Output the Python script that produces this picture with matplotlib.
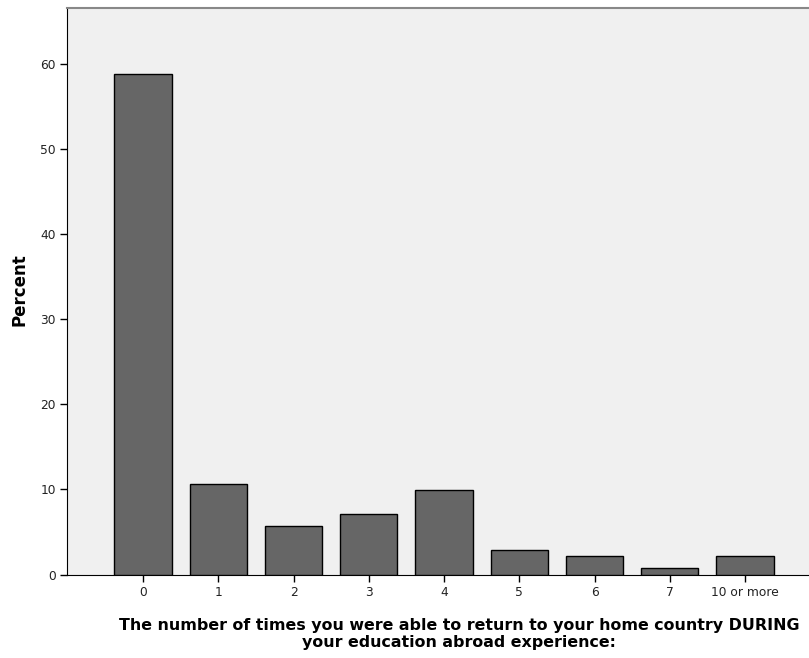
import matplotlib
matplotlib.use("Agg")
import matplotlib.pyplot as plt

categories = ["0", "1", "2", "3", "4", "5", "6", "7", "10 or more"]
percent = [58.87, 10.64, 5.67, 7.09, 9.93, 2.84, 2.13, 0.71, 2.13]
yticks = [0, 10, 20, 30, 40, 50, 60]

plt.rcParams['font.family'] = ['DejaVu Sans']

W, H = 809, 658
fig = plt.figure(figsize=(W / 100, H / 100), dpi=100)
ax = fig.add_axes([67 / W, 1 - 574.5 / H, 1 - 67 / W, (574.5 - 8) / H])
ax.set_facecolor("#F0F0F0")

x = list(range(len(categories)))
ax.bar(x, percent, width=0.76, color="#666666", edgecolor="#000000", linewidth=1.0, zorder=3)

ax.set_xlim(-1.01, 8.85)
ax.set_ylim(0, 66.6)
ax.set_xticks(x)
ax.set_xticklabels(categories, fontsize=8.8, color="#222222")
ax.set_yticks(yticks)
ax.set_yticklabels([str(v) for v in yticks], fontsize=8.8, color="#222222")
ax.tick_params(axis="both", direction="out", length=5, width=1, color="#000000", pad=3)

ax.spines["right"].set_visible(False)
ax.spines["top"].set_color("#888888")
ax.spines["top"].set_linewidth(1.5)
ax.spines["left"].set_color("#000000")
ax.spines["bottom"].set_color("#000000")

fig.text(19.5 / W, 1 - 289.5 / H, "Percent", rotation=90, ha="center", va="center",
         fontsize=12, fontweight="bold")
fig.text(459 / W, 1 - 634 / H,
         "The number of times you were able to return to your home country DURING\nyour education abroad experience:",
         ha="center", va="center", fontsize=11.4, fontweight="bold", linespacing=1.15)

fig.savefig("out.png", dpi=100, facecolor="white")
